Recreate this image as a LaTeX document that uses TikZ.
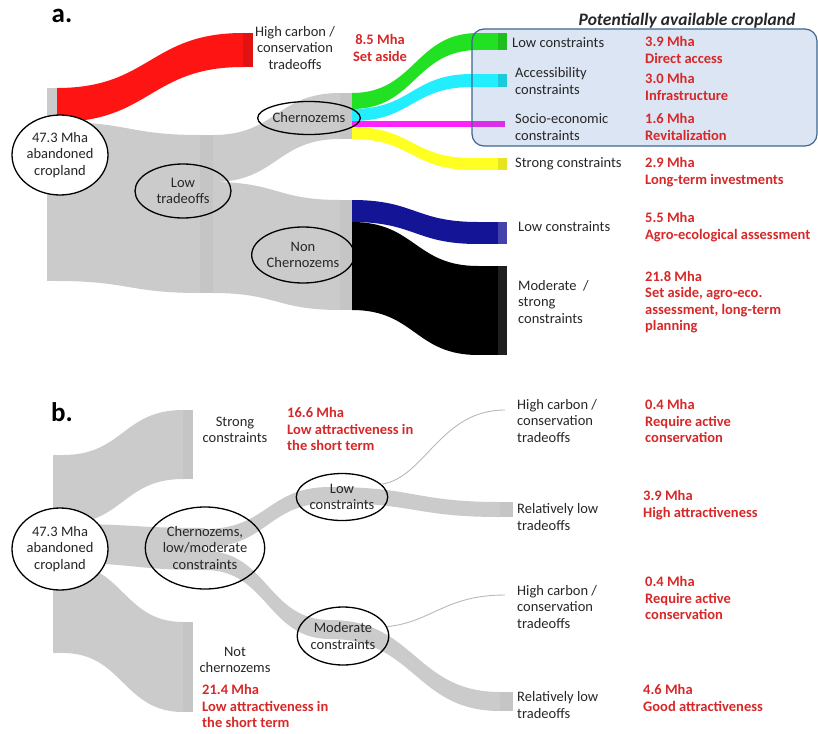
\documentclass[tikz,border=0pt]{standalone}
\usepackage{fontspec}
\setmainfont{Carlito}
\usepackage{tikz}
\usetikzlibrary{shapes.geometric,positioning}
\definecolor{flowgrey}{HTML}{CBCBCB}
\definecolor{bargrey}{HTML}{C5C5C5}
\definecolor{valred}{HTML}{D62828}
\definecolor{flowred}{HTML}{FF1414}
\definecolor{flowgreen}{HTML}{22E022}
\definecolor{flowcyan}{HTML}{22EEFF}
\definecolor{flowmag}{HTML}{FF22FF}
\definecolor{flowyellow}{HTML}{FFFF22}
\definecolor{flowblue}{HTML}{141496}
\definecolor{boxblue}{HTML}{C9D7EC}
\definecolor{boxline}{HTML}{3E6690}
% band: x1, top1, bottom1, x2, top2, bottom2, colour
\newcommand\sankeyband[7]{\fill[#7] (#1,#2) .. controls ({(#1+#4)/2},#2) and ({(#1+#4)/2},#5) .. (#4,#5) -- (#4,#6) .. controls ({(#1+#4)/2},#6) and ({(#1+#4)/2},#3) .. (#1,#3) -- cycle;}

\begin{document}
\begin{tikzpicture}[x=1pt,y=-1pt,
  every node/.style={font=\fontsize{14.5}{16.5}\selectfont,text=black!85,inner sep=0},
  lbl/.style={anchor=west,align=left},
  val/.style={anchor=west,align=left,text=valred,font=\bfseries\fontsize{14.5}{16.5}\selectfont},
  oval/.style={draw,ellipse,line width=1.3pt,align=center},
  panel/.style={font=\bfseries\fontsize{27}{27}\selectfont,text=black}]
  \useasboundingbox (0,0) rectangle (818,733);

  % a. flows
  \fill[boxblue!65,rounded corners=12pt] (472,29) rectangle (817,146);
  \fill[flowgrey] (47,88) rectangle (57,281);
  \sankeyband{57}{88}{122}{243}{33}{67}{flowred}
  \fill[flowred!88!black] (243,33) rectangle (253,67);
  \sankeyband{57}{122}{281}{200}{135}{293}{flowgrey}
  \fill[bargrey] (200,135) rectangle (213,293);
  \sankeyband{213}{135}{182}{340}{93}{139}{flowgrey}
  \sankeyband{213}{182}{293}{340}{200}{310}{flowgrey}
  \fill[bargrey] (340,93) rectangle (352,139);
  \fill[bargrey] (340,200) rectangle (352,310);
  \sankeyband{352}{93}{109}{478}{33}{50}{flowgreen}
  \fill[flowgreen] (478,33) rectangle (498,50);
  \fill[flowgreen!85!black] (498,33) rectangle (507,50);
  \sankeyband{352}{109}{121}{472}{74}{87}{flowcyan}
  \fill[flowcyan] (472,74) rectangle (498,87);
  \fill[flowcyan!85!black] (498,74) rectangle (507,87);
  \fill[flowmag] (352,121) rectangle (472,127);
  \fill[flowmag!80!boxline] (472,121) rectangle (505,127);
  \sankeyband{352}{127}{139}{472}{158}{170}{flowyellow}
  \fill[flowyellow] (472,158) rectangle (498,170);
  \fill[flowyellow!90!black] (498,158) rectangle (507,170);
  \sankeyband{352}{200}{222}{478}{222}{244}{flowblue}
  \fill[flowblue] (478,222) rectangle (498,244);
  \fill[flowblue!80!white] (498,222) rectangle (507,244);
  \sankeyband{352}{222}{310}{478}{266}{355}{black}
  \fill[black] (478,266) rectangle (498,355);
  \fill[black!88] (498,266) rectangle (507,355);
  \draw[boxline,line width=1.2pt,rounded corners=12pt] (472,29) rectangle (817,146);

  % a. nodes
  \node[panel] (pa) at (62,16) {a.};
  \node[oval,fill=white,minimum width=96pt,minimum height=80pt] (srca) at (60,155) {47.3 Mha\\abandoned\\cropland};
  \node[oval,minimum width=96pt,minimum height=54pt] (lowtr) at (183,191) {Low\\tradeoffs};
  \node[oval,minimum width=88pt,minimum height=33pt] (chern) at (309,118) {Chernozems};
  \node[oval,minimum width=92pt,minimum height=56pt] (nonchern) at (303,255) {Non\\Chernozems};
  \node[align=center] (hicarb) at (295,48) {High carbon /\\conservation\\tradeoffs};
  \node[val,anchor=center,align=center] (v85) at (380,48) {8.5 Mha\\Set aside};
  \node[font=\bfseries\itshape\fontsize{17.5}{19}\selectfont] (avail) at (687,21) {Potentially available cropland};
  \node[lbl] (lowc) at (512,43) {Low constraints};
  \node[lbl] (accc) at (515,81) {Accessibility\\constraints};
  \node[lbl] (socc) at (515,127) {Socio-economic\\constraints};
  \node[lbl] (strc) at (515,164) {Strong constraints};
  \node[lbl] (lowcn) at (518,227) {Low constraints};
  \node[lbl] (modc) at (518,302) {Moderate~~/\\strong\\constraints};
  \node[val] (v39) at (645,50) {3.9 Mha\\Direct access};
  \node[val] (v30) at (645,87) {3.0 Mha\\Infrastructure};
  \node[val] (v16) at (645,127) {1.6 Mha\\Revitalization};
  \node[val] (v29) at (645,172) {2.9 Mha\\Long-term investments};
  \node[val] (v55) at (645,227) {5.5 Mha\\Agro-ecological assessment};
  \node[val] (v218) at (645,302) {21.8 Mha\\Set aside, agro-eco.\\assessment, long-term\\planning};

  % b. flows
  \fill[flowgrey] (53,455) rectangle (63,653);
  \sankeyband{63}{455}{524}{183}{410}{479}{flowgrey}
  \fill[bargrey] (183,410) rectangle (193,479);
  \sankeyband{63}{563}{653}{183}{622}{712}{flowgrey}
  \fill[bargrey] (183,622) rectangle (193,712);
  \sankeyband{63}{524}{563}{205}{528}{570}{flowgrey}
  \sankeyband{205}{529}{547}{330}{487}{503}{flowgrey}
  \sankeyband{330}{487}{503}{500}{502}{517}{flowgrey}
  \fill[bargrey] (500,502) rectangle (513,517);
  \sankeyband{205}{551}{570}{330}{620}{639}{flowgrey}
  \sankeyband{330}{620}{639}{500}{692}{711}{flowgrey}
  \fill[bargrey] (500,692) rectangle (513,711);

  % b. nodes
  \node[panel] (pb) at (62,412) {b.};
  \node[oval,fill=white,minimum width=96pt,minimum height=82pt] (srcb) at (60,549) {47.3 Mha\\abandoned\\cropland};
  \node[oval,minimum width=106pt,minimum height=82pt] (chernb) at (205,548) {Chernozems,\\low/moderate\\constraints};
  \node[oval,minimum width=90pt,minimum height=47pt] (lowcb) at (342,497) {Low\\constraints};
  \node[oval,minimum width=90pt,minimum height=58pt] (modcb) at (343,636) {Moderate\\constraints};
  \coordinate (hc1) at (505,410);
  \coordinate (hc2) at (505,595);
  \draw[black!28,line width=0.9pt] (lowcb.18) .. controls (425,478) and (440,410) .. (hc1);
  \draw[black!28,line width=0.9pt] (modcb.12) .. controls (432,622) and (445,595) .. (hc2);
  \node[align=center] (strb) at (235,430) {Strong\\constraints};
  \node[val] (v166) at (287,429) {16.6 Mha\\Low attractiveness in\\the short term};
  \node[align=center] (notch) at (235,660) {Not\\chernozems};
  \node[val] (v214) at (202,706) {21.4 Mha\\Low attractiveness in\\the short term};
  \node[lbl] (hcb1) at (517,421) {High carbon /\\conservation\\tradeoffs};
  \node[val] (v04a) at (645,421) {0.4 Mha\\Require active\\conservation};
  \node[lbl] (rlt1) at (517,517) {Relatively low\\tradeoffs};
  \node[val] (v39b) at (643,505) {3.9 Mha\\High attractiveness};
  \node[lbl] (hcb2) at (517,607) {High carbon /\\conservation\\tradeoffs};
  \node[val] (v04b) at (645,598) {0.4 Mha\\Require active\\conservation};
  \node[lbl] (rlt2) at (517,705) {Relatively low\\tradeoffs};
  \node[val] (v46) at (643,698) {4.6 Mha\\Good attractiveness};
\end{tikzpicture}
\end{document}
